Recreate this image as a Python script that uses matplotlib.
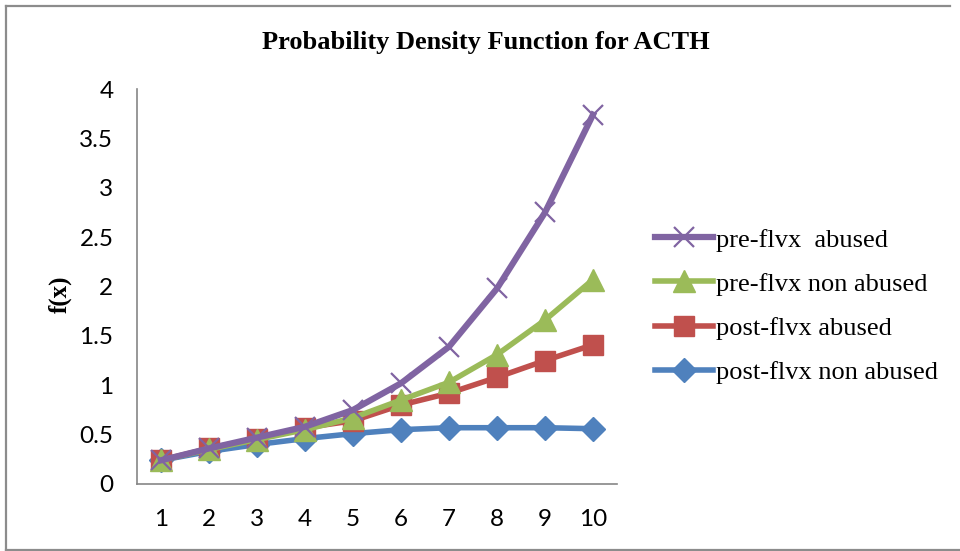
import matplotlib
matplotlib.use("Agg")
import matplotlib.pyplot as plt
from matplotlib.lines import Line2D

# Category positions and density values for each group
x_values = [1, 2, 3, 4, 5, 6, 7, 8, 9, 10]
post_non_abused = [0.24, 0.33, 0.40, 0.46, 0.51, 0.55, 0.57, 0.57, 0.57, 0.56]
post_abused = [0.24, 0.36, 0.46, 0.57, 0.64, 0.80, 0.92, 1.08, 1.25, 1.41]
pre_non_abused = [0.24, 0.35, 0.45, 0.55, 0.67, 0.85, 1.03, 1.31, 1.66, 2.07]
pre_abused = [0.24, 0.36, 0.47, 0.58, 0.75, 1.02, 1.39, 1.98, 2.75, 3.74]
y_ticks = [0, 0.5, 1, 1.5, 2, 2.5, 3, 3.5, 4]
y_tick_labels = ["0", "0.5", "1", "1.5", "2", "2.5", "3", "3.5", "4"]

serif = ["Liberation Serif", "DejaVu Serif"]
sans = ["Lato", "DejaVu Sans"]

W, H = 960, 551
fig = plt.figure(figsize=(W / 100, H / 100), dpi=100)
fig.patch.set_facecolor("white")


def fx(px):
    return px / W


def fy(py):
    return 1 - py / H


# Chart-area frame
frame_kw = dict(transform=fig.transFigure, color="#8c8c8c", linewidth=1.6)
fig.lines.append(Line2D([fx(6), fx(6)], [fy(6), fy(550)], **frame_kw))
fig.lines.append(Line2D([fx(6), fx(950)], [fy(6), fy(6)], **frame_kw))
fig.lines.append(Line2D([fx(6), fx(960)], [fy(550), fy(550)], **frame_kw))

ax = fig.add_axes([fx(137), fy(484), 480 / W, 395 / H])

ax.plot(x_values, post_non_abused, color="#4F81BD", linewidth=4,
        marker="D", markersize=12, label="post-flvx non abused", zorder=3)
ax.plot(x_values, post_abused, color="#C0504D", linewidth=4,
        marker="s", markersize=14, label="post-flvx abused", zorder=4)
ax.plot(x_values, pre_non_abused, color="#9BBB59", linewidth=4,
        marker="^", markersize=16, label="pre-flvx non abused", zorder=5)
ax.plot(x_values, pre_abused, color="#8064A2", linewidth=4.5,
        marker="x", markersize=15, markeredgewidth=1.6,
        label="pre-flvx  abused", zorder=6)

ax.set_xlim(0.5, 10.5)
ax.set_ylim(0, 4)
ax.set_xticks(x_values)
ax.set_xticklabels([str(v) for v in x_values], family=sans, fontsize=17.5)
ax.set_yticks(y_ticks)
ax.set_yticklabels(y_tick_labels, family=sans, fontsize=17.5)
ax.tick_params(length=0)
ax.tick_params(axis="x", pad=18)
ax.tick_params(axis="y", pad=17)

for side in ("top", "right"):
    ax.spines[side].set_visible(False)
for side in ("left", "bottom"):
    ax.spines[side].set_color("#868686")
    ax.spines[side].set_linewidth(1.2)

ax.set_ylabel("f(x)", family=serif, fontsize=18, fontweight="bold")
ax.yaxis.set_label_coords((72 - 137) / 480, 0.48)

fig.text(fx(486), fy(43), "Probability Density Function for ACTH",
         family=serif, fontsize=19, fontweight="bold", ha="center", va="center")

handles, labels = ax.get_legend_handles_labels()
leg = fig.legend(handles[::-1], labels[::-1], loc="center left",
                 bbox_to_anchor=(fx(655), fy(306)),
                 frameon=False, prop={"family": serif, "size": 19},
                 handlelength=2.2, handletextpad=0.1, labelspacing=0.78,
                 borderaxespad=0, borderpad=0)

fig.savefig("out.png", dpi=100, facecolor="white")
